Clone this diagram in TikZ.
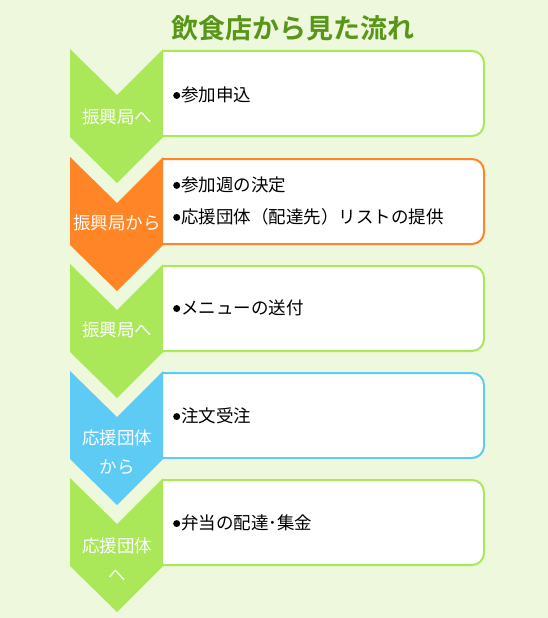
\documentclass[tikz,border=0pt]{standalone}
\usepackage{fontspec}
\newfontfamily\jp{Noto Sans CJK JP}
\newfontfamily\jpb{Noto Sans CJK JP Bold}
\definecolor{bg}{RGB}{238,248,220}
\definecolor{cgreen}{RGB}{170,232,90}
\definecolor{corange}{RGB}{255,133,38}
\definecolor{cblue}{RGB}{94,203,245}
\definecolor{ctitle}{RGB}{88,150,24}
\tikzset{
  chev/.style={fill=#1, draw=none},
  itembox/.style={fill=white, draw=#1, line width=2pt, rounded corners=12pt},
  lbl/.style={text=white, font=\jp\fontsize{17.5}{29}\selectfont, align=center, inner sep=0pt},
  itm/.style={text=black, font=\jp\fontsize{17.5}{32}\selectfont, align=left, anchor=west, inner sep=0pt},
}
\newcommand\bul{\raisebox{2.6pt}{\tikz\fill (0,0) circle (3.5pt);}\hspace{1pt}}
\newcommand\stage[3]{% top, color
  \draw[itembox=#2] (163,#1+2) -- (484,#1+2) -- (484,#1+87) -- (163,#1+87);
  \fill[chev=#2] (70,#1) -- (117,#1+46) -- (163,#1) -- (163,#1+88) -- (117,#1+134) -- (70,#1+88) -- cycle;
}
\begin{document}
\begin{tikzpicture}[x=1pt,y=-1pt]
\fill[bg] (0,0) rectangle (548,618);
\useasboundingbox (0,0) rectangle (548,618);
\node[font=\jpb\fontsize{27}{30}\selectfont, text=ctitle, inner sep=0pt] (title) at (293,28) {飲食店から見た流れ};
\stage{49}{cgreen}{}
\stage{157}{corange}{}
\stage{264}{cgreen}{}
\stage{371}{cblue}{}
\stage{478}{cgreen}{}
\node[lbl] (l1) at (117,117) {振興局へ};
\node[lbl] (l2) at (117,223) {振興局から};
\node[lbl] (l3) at (117,330) {振興局へ};
\node[lbl] (l4) at (117,452) {応援団体\\から};
\node[lbl] (l5) at (117,560) {応援団体\\へ};
\node[itm] (i1) at (173,95) {\bul 参加申込};
\node[itm] (i2) at (173,201) {\bul 参加週の決定\\\bul 応援団体（配達先）リストの提供};
\node[itm] (i3) at (173,308) {\bul メニューの送付};
\node[itm] (i4) at (173,416) {\bul 注文受注};
\node[itm] (i5) at (173,523) {\bul 弁当の配達･集金};
\end{tikzpicture}
\end{document}
